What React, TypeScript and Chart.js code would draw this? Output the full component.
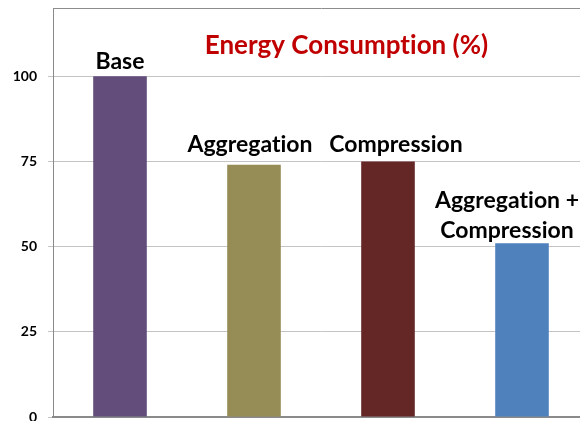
import React, { useEffect, useRef } from "react";
import { Chart, registerables } from "chart.js";

Chart.register(...registerables);

const categories = ["Base", "Aggregation", "Compression", "Aggregation + Compression"];
const energyValues = [100, 74, 75, 51];
const barColors = ["#634D7B", "#968C55", "#652626", "#4F81BD"];
const barLabels = [["Base"], ["Aggregation"], ["Compression"], ["Aggregation +", "Compression"]];
const labelBaselineValues = [102.1, 77.8, 77.8, 52.5];
const tickValues = [0, 25, 50, 75, 100];
const chartTitle = "Energy Consumption (%)";

const LABEL_DX = [0, -4, 8, -15];
const FONT = "Lato, 'Open Sans', sans-serif";

const labelPlugin = {
  id: "barLabels",
  afterDatasetsDraw(chart: any) {
    const { ctx, scales } = chart;
    const xs = scales.x;
    const ys = scales.y;
    ctx.save();
    (ctx as any).letterSpacing = "0.01px";
    ctx.fillStyle = "#000";
    ctx.font = `bold 23px ${FONT}`;
    ctx.textAlign = "center";
    ctx.textBaseline = "alphabetic";
    barLabels.forEach((lines, i) => {
      const x = xs.getPixelForValue(i) + LABEL_DX[i];
      const yBase = ys.getPixelForValue(labelBaselineValues[i]);
      const n = lines.length;
      lines.forEach((line, j) => {
        ctx.fillText(line, x, yBase - (n - 1 - j) * 30);
      });
    });
    ctx.fillStyle = "#C00000";
    ctx.font = `bold 26px ${FONT}`;
    ctx.fillText(chartTitle, xs.getPixelForValue(1.69), ys.getPixelForValue(106.5));
    ctx.restore();
  },
};

export default function App() {
  const ref = useRef<HTMLCanvasElement | null>(null);
  useEffect(() => {
    document.body.style.margin = "0";
    document.body.style.overflow = "hidden";
    const chart = new Chart(ref.current as HTMLCanvasElement, {
      type: "bar",
      data: {
        labels: categories,
        datasets: [
          {
            data: energyValues,
            backgroundColor: barColors,
            barPercentage: 0.4,
            categoryPercentage: 1,
          },
        ],
      },
      options: {
        animation: false,
        responsive: false,
        maintainAspectRatio: false,
        layout: { padding: { top: 8, right: 11, bottom: 4, left: 0 } },
        plugins: { legend: { display: false }, tooltip: { enabled: false }, title: { display: false } },
        scales: {
          x: {
            grid: { display: false, drawTicks: false },
            ticks: { display: false },
            border: { display: true, color: "#8a8a8a", width: 2 },
            afterFit(scale: any) {
              scale.height = 0;
              scale.paddingLeft = 0;
              scale.paddingRight = 0;
            },
          },
          y: {
            min: 0,
            max: 120,
            afterBuildTicks(scale: any) {
              scale.ticks = [...tickValues, 120].map((v) => ({ value: v }));
            },
            afterFit(scale: any) {
              scale.width = 53;
              scale.paddingTop = 0;
              scale.paddingBottom = 0;
            },
            ticks: {
              padding: 11,
              color: "#000",
              font: { family: FONT, weight: "bold", size: 14 },
              callback: (v: any) => (tickValues.includes(Number(v)) ? String(v) : ""),
            },
            grid: {
              tickLength: 5,
              color: (c: any) => (c.tick && c.tick.value === 120 ? "#8c8c8c" : "#c4c4c4"),
              tickColor: (c: any) => (c.tick && c.tick.value === 120 ? "rgba(0,0,0,0)" : "#c4c4c4"),
            },
            border: { display: true, color: "#8a8a8a", width: 1 },
          },
        },
      },
      plugins: [labelPlugin],
    });
    return () => chart.destroy();
  }, []);
  return (
    <div style={{ width: 600, height: 421 }}>
      <canvas ref={ref} width={600} height={421} style={{ display: "block" }} />
    </div>
  );
}
